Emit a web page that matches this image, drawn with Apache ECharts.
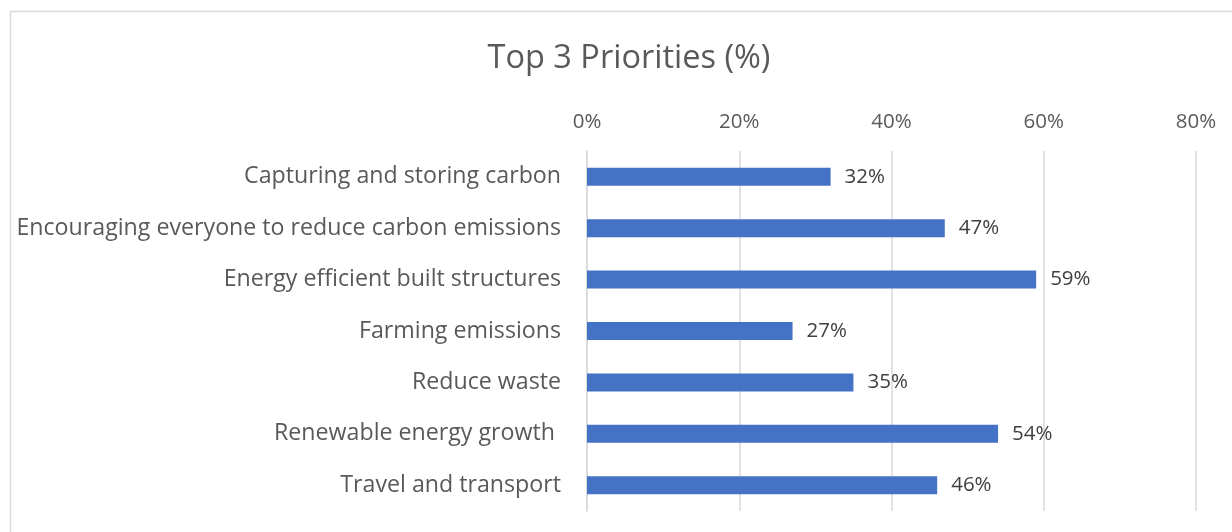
<!DOCTYPE html>
<html><head><meta charset="utf-8">
<script src="https://cdn.jsdelivr.net/npm/echarts@6/dist/echarts.min.js"></script>
<style>html,body{margin:0;padding:0;background:#fff}#c{width:1232px;height:532px}</style>
</head><body><div id="c"></div>
<script>
const categories = ["Capturing and storing carbon","Encouraging everyone to reduce carbon emissions","Energy efficient built structures","Farming emissions","Reduce waste","Renewable energy growth ","Travel and transport"];
const values = [32,47,59,27,35,54,46];
const tickMax = 80;
const tickStep = 20;
const titleText = "Top 3 Priorities (%)";
const font = "Open Sans";
const chart = echarts.init(document.getElementById('c'));
chart.setOption({
  animation:false,
  title:{text:titleText,left:624,top:37,textAlign:'center',textStyle:{fontFamily:font,fontSize:32.5,fontWeight:'normal',color:'#595959'}},
  graphic:[{type:'rect',shape:{x:10.5,y:11.5,width:1300,height:600},style:{fill:'none',stroke:'#d9d9d9',lineWidth:1.5},silent:true}],
  grid:{left:587,right:36,top:151,bottom:21,containLabel:false},
  xAxis:{type:'value',position:'top',min:0,max:tickMax,interval:tickStep,
    axisLine:{show:false},axisTick:{show:false},
    axisLabel:{formatter:'{value}%',fontFamily:font,fontSize:20.5,color:'#595959',margin:18},
    splitLine:{lineStyle:{color:'#d9d9d9',width:1.5}}},
  yAxis:{type:'category',data:categories,inverse:true,
    axisLine:{show:true,lineStyle:{color:'#d9d9d9',width:1.5}},axisTick:{show:false},
    axisLabel:{fontFamily:font,fontSize:23.2,color:'#595959',margin:26,padding:[3,0,0,0]}},
  series:[{type:'bar',data:values,barWidth:'35%',itemStyle:{color:'#4472C4'},
    label:{show:true,position:'right',distance:14,formatter:'{c}%',fontFamily:font,fontSize:20.5,color:'#404040',padding:[2,0,0,0]}}]
});
</script></body></html>
